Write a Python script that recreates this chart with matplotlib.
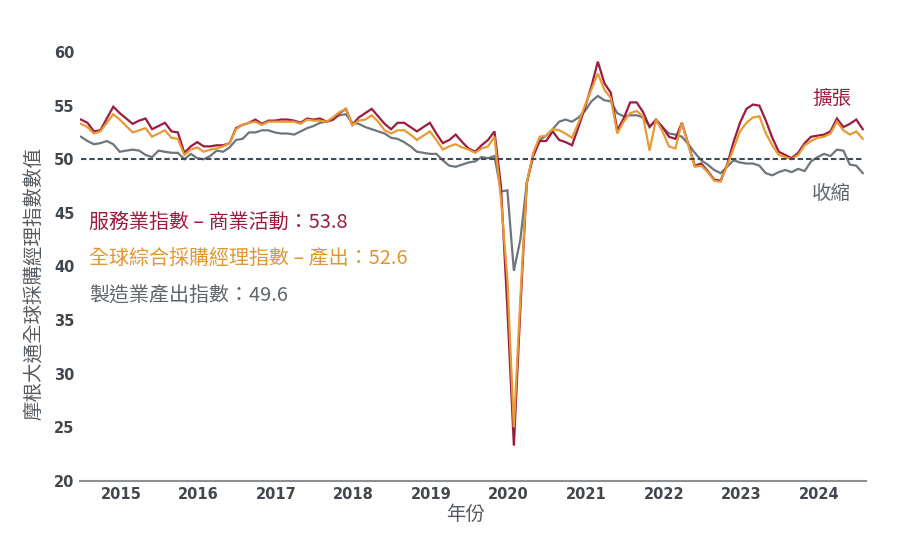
import numpy as np
import matplotlib as mpl
import matplotlib.pyplot as plt

# --------------------------------------------------------------------------
# Data (monthly readings)
# --------------------------------------------------------------------------
SERVICES = [
    53.7, 53.4, 52.6, 52.7, 53.8, 54.9, 54.3, 53.8, 53.3, 53.6, 53.8, 52.8,
    53.1, 53.4, 52.6, 52.5, 50.6, 51.2, 51.6, 51.2, 51.2, 51.3, 51.3, 51.5,
    52.9, 53.2, 53.4, 53.7, 53.3, 53.6, 53.6, 53.7, 53.7, 53.6, 53.4, 53.8,
    53.7, 53.8, 53.5, 53.7, 54.3, 54.7, 53.2, 53.9, 54.3, 54.7, 54.0, 53.3,
    52.8, 53.4, 53.4, 53.0, 52.6, 53.0, 53.4, 52.4, 51.5, 51.8, 52.3, 51.6,
    51.0, 50.7, 51.3, 51.8, 52.6, 47.5, 36.0, 23.3, 36.0, 47.8, 50.3, 51.7,
    51.7, 52.6, 51.8, 51.6, 51.3, 53.0, 54.8, 56.8, 59.1, 57.1, 56.2, 52.7,
    53.8, 55.3, 55.3, 54.4, 53.0, 53.7, 53.0, 52.1, 51.9, 53.4, 51.4, 49.4,
    49.6, 48.9, 48.1, 48.0, 49.5, 51.6, 53.4, 54.7, 55.1, 55.0, 53.6, 52.0,
    50.7, 50.4, 50.1, 50.6, 51.5, 52.1, 52.2, 52.3, 52.6, 53.8, 53.0, 53.3,
    53.7, 52.8,
]
COMPOSITE = [
    53.3, 53.0, 52.4, 52.6, 53.4, 54.2, 53.7, 53.1, 52.5, 52.7, 52.9, 52.1,
    52.4, 52.7, 52.0, 51.9, 50.4, 50.9, 51.1, 50.7, 50.9, 51.0, 51.2, 51.5,
    52.8, 53.2, 53.4, 53.5, 53.2, 53.5, 53.5, 53.5, 53.5, 53.5, 53.3, 53.7,
    53.6, 53.6, 53.5, 53.9, 54.4, 54.7, 53.2, 53.6, 53.7, 54.1, 53.5, 52.7,
    52.4, 52.7, 52.7, 52.3, 51.8, 52.2, 52.6, 51.8, 50.9, 51.2, 51.4, 51.1,
    50.9, 50.6, 51.0, 51.2, 52.1, 46.3, 38.8, 25.0, 37.0, 47.8, 50.6, 52.1,
    52.2, 52.8, 52.7, 52.4, 52.0, 53.4, 55.0, 56.5, 58.0, 56.5, 55.7, 52.4,
    53.5, 54.3, 54.5, 54.0, 50.8, 53.7, 52.6, 51.2, 51.0, 53.4, 51.3, 49.3,
    49.4, 48.8, 48.0, 47.9, 49.4, 51.0, 52.6, 53.4, 53.9, 54.0, 52.4, 51.3,
    50.4, 50.2, 50.0, 50.4, 51.3, 51.7, 52.0, 52.1, 52.4, 53.5, 52.7, 52.3,
    52.6, 51.9,
]
MANUFACTURING = [
    52.1, 51.7, 51.4, 51.5, 51.7, 51.4, 50.7, 50.8, 50.9, 50.8, 50.4, 50.2,
    50.8, 50.7, 50.6, 50.6, 50.0, 50.5, 50.1, 50.0, 50.3, 50.8, 50.7, 51.1,
    51.8, 51.9, 52.5, 52.5, 52.7, 52.7, 52.5, 52.4, 52.4, 52.3, 52.6, 52.9,
    53.1, 53.4, 53.5, 53.7, 54.1, 54.2, 53.4, 53.3, 53.0, 52.8, 52.6, 52.4,
    52.0, 51.9, 51.6, 51.2, 50.7, 50.6, 50.5, 50.5, 49.9, 49.4, 49.3, 49.5,
    49.7, 49.8, 50.2, 50.1, 50.3, 47.0, 47.1, 39.6, 42.5, 47.8, 50.5, 51.8,
    52.2, 52.8, 53.5, 53.7, 53.5, 53.9, 54.5, 55.4, 55.9, 55.5, 55.4, 54.3,
    54.0, 54.1, 54.1, 53.9, 53.1, 53.5, 53.0, 52.4, 52.3, 52.1, 51.4, 50.6,
    49.9, 49.5, 49.0, 48.7, 49.3, 49.9, 49.7, 49.6, 49.6, 49.4, 48.7, 48.5,
    48.8, 49.0, 48.8, 49.1, 48.9, 49.8, 50.2, 50.5, 50.3, 50.9, 50.8, 49.5,
    49.4, 48.7,
]
YEARS = ["2015", "2016", "2017", "2018", "2019", "2020", "2021", "2022", "2023", "2024"]
Y_TICKS = [20, 25, 30, 35, 40, 45, 50, 55, 60]
LABELS = [
    ("服務業指數 – 商業活動：53.8", "#9b1c3e"),
    ("全球綜合採購經理指數 – 產出：52.6", "#e3952f"),
    ("製造業產出指數：49.6", "#5f666b"),
]

# --------------------------------------------------------------------------
# Style
# --------------------------------------------------------------------------
RED = "#9b1c3e"
ORANGE = "#e89a35"
GREY = "#6d767c"
DASH = "#3e4a56"
TICKC = "#41474d"
CJK = ["Noto Sans CJK TC", "DejaVu Sans"]

mpl.rcParams["font.family"] = CJK

fig = plt.figure(figsize=(9.18, 5.4), dpi=100)
ax = fig.add_axes([80 / 918, 59 / 540, 786 / 918, 429 / 540])

x = np.arange(len(SERVICES))
ax.plot(x, MANUFACTURING, color=GREY, lw=1.6, zorder=3, solid_joinstyle="miter")
ax.plot(x, SERVICES, color=RED, lw=1.6, zorder=4, solid_joinstyle="miter")
ax.plot(x, COMPOSITE, color=ORANGE, lw=1.6, zorder=5, solid_joinstyle="miter")

ax.hlines(50, 0, len(SERVICES) - 1, color=DASH, lw=1.5,
          linestyle=(0, (2.6, 1.4)), zorder=6)

ax.set_xlim(-0.15, 121.5)
ax.set_ylim(20, 60)

ax.set_yticks(Y_TICKS)
ax.set_yticklabels([str(v) for v in Y_TICKS], fontfamily="DejaVu Sans",
                   fontweight="bold")
ax.set_xticks([6.2 + 12 * k for k in range(len(YEARS))])
ax.set_xticklabels(YEARS, fontfamily="DejaVu Sans", fontweight="bold")
ax.tick_params(length=0, labelsize=10.5, labelcolor=TICKC)
ax.tick_params(axis="y", pad=4)
ax.tick_params(axis="x", pad=4)

for side in ("top", "right", "left"):
    ax.spines[side].set_visible(False)
ax.spines["bottom"].set_color("#8c9196")
ax.spines["bottom"].set_linewidth(1.5)

# series labels
for k, (txt, col) in enumerate(LABELS):
    ax.text(1.3, 44.15 - 3.42 * k, txt, color=col, fontsize=14.4, ha="left",
            va="center", family=CJK)

ax.text(116.2, 55.6, "擴張", color=RED, fontsize=14, ha="center", va="center")
ax.text(116.2, 46.85, "收縮", color="#5f666b", fontsize=14, ha="center", va="center")

fig.text(35 / 918, 1 - 284 / 540, "摩根大通全球採購經理指數數值", rotation=90,
         ha="center", va="center", fontsize=14, color="#555b60")
fig.text(466 / 918, 1 - 514 / 540, "年份", ha="center", va="center",
         fontsize=14, color="#555b60")

fig.savefig("out.png", dpi=100, facecolor="white")
